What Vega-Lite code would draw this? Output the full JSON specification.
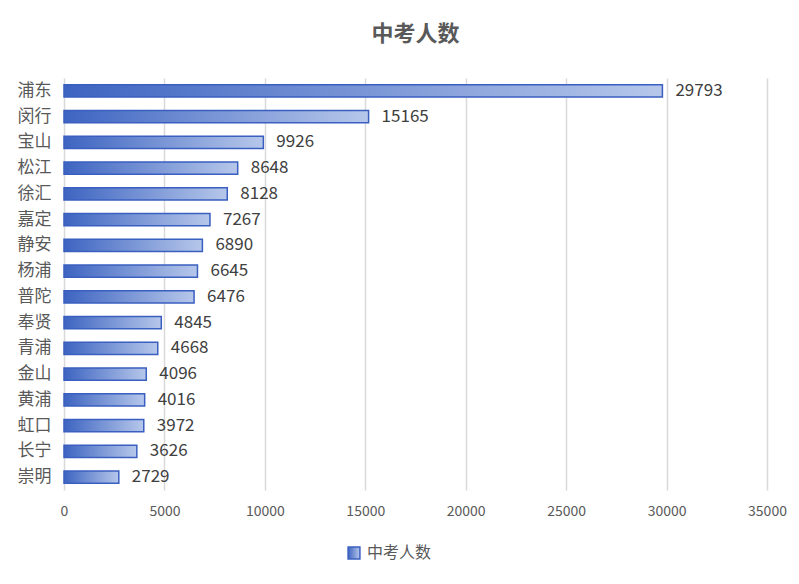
{
  "$schema": "https://vega.github.io/schema/vega-lite/v6.json",
  "width": 703,
  "height": 412,
  "autosize": {"type": "none"},
  "padding": {"left": 64, "top": 78, "right": 32, "bottom": 94},
  "background": "white",
  "config": {"view": {"stroke": null}},
  "title": {
    "text": "中考人数",
    "font": "Noto Sans CJK SC",
    "fontSize": 22,
    "fontWeight": "bold",
    "color": "#595959",
    "anchor": "middle",
    "offset": 32
  },
  "data": {
    "values": [
      {"区": "浦东", "人数": 29793},
      {"区": "闵行", "人数": 15165},
      {"区": "宝山", "人数": 9926},
      {"区": "松江", "人数": 8648},
      {"区": "徐汇", "人数": 8128},
      {"区": "嘉定", "人数": 7267},
      {"区": "静安", "人数": 6890},
      {"区": "杨浦", "人数": 6645},
      {"区": "普陀", "人数": 6476},
      {"区": "奉贤", "人数": 4845},
      {"区": "青浦", "人数": 4668},
      {"区": "金山", "人数": 4096},
      {"区": "黄浦", "人数": 4016},
      {"区": "虹口", "人数": 3972},
      {"区": "长宁", "人数": 3626},
      {"区": "崇明", "人数": 2729}
    ]
  },
  "encoding": {
    "y": {
      "field": "区",
      "type": "nominal",
      "sort": {"field": "人数", "order": "descending"},
      "title": null,
      "scale": {"paddingInner": 0.52, "paddingOuter": 0.26},
      "axis": {
        "domain": false,
        "ticks": false,
        "labelFont": "Noto Sans CJK SC",
        "labelFontSize": 17,
        "labelColor": "#595959",
        "labelPadding": 13
      }
    },
    "x": {
      "field": "人数",
      "type": "quantitative",
      "title": null,
      "scale": {"domain": [0, 35000], "nice": false},
      "axis": {
        "values": [0, 5000, 10000, 15000, 20000, 25000, 30000, 35000],
        "format": "d",
        "domain": false,
        "ticks": false,
        "grid": true,
        "gridColor": "#d9d9d9",
        "gridWidth": 1.5,
        "labelFlush": false,
        "labelFont": "Noto Sans CJK SC",
        "labelFontSize": 14,
        "labelColor": "#595959",
        "labelPadding": 14
      }
    }
  },
  "layer": [
    {
      "mark": {
        "type": "bar",
        "fill": {
          "gradient": "linear",
          "x1": 0, "y1": 0, "x2": 1, "y2": 0,
          "stops": [
            {"offset": 0, "color": "#3d64c1"},
            {"offset": 1, "color": "#b6c7ea"}
          ]
        },
        "strokeWidth": 1.5
      },
      "encoding": {
        "stroke": {
          "datum": "中考人数",
          "type": "nominal",
          "scale": {"range": ["#3a5fc0"]},
          "legend": {
            "title": null,
            "orient": "none",
            "legendX": 282,
            "legendY": 467,
            "symbolType": "square",
            "symbolSize": 140,
            "symbolStrokeWidth": 1.5,
            "labelFont": "Noto Sans CJK SC",
            "labelFontSize": 16,
            "labelColor": "#595959",
            "labelOffset": 5,
            "encode": {
              "symbols": {
                "update": {
                  "fill": {
                    "value": {
                      "gradient": "linear",
                      "x1": 0, "y1": 0, "x2": 1, "y2": 0,
                      "stops": [
                        {"offset": 0, "color": "#3d64c1"},
                        {"offset": 1, "color": "#b6c7ea"}
                      ]
                    }
                  },
                  "fillOpacity": {"value": 1}
                }
              }
            }
          }
        }
      }
    },
    {
      "mark": {
        "type": "text",
        "align": "left",
        "baseline": "middle",
        "dx": 13,
        "font": "Noto Sans CJK SC",
        "fontSize": 17,
        "color": "#404040"
      },
      "encoding": {
        "text": {"field": "人数", "type": "quantitative", "format": "d"}
      }
    }
  ]
}
